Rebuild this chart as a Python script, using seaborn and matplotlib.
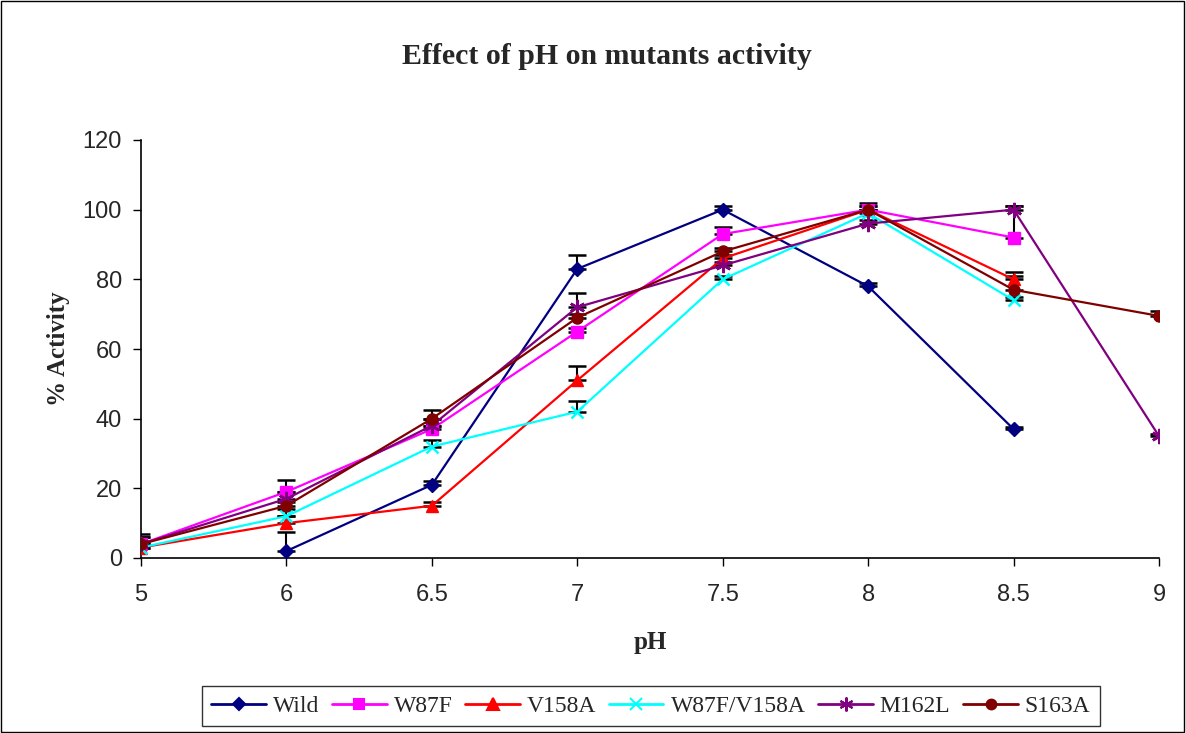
import numpy as np
import pandas as pd
import matplotlib
matplotlib.use("Agg")
import matplotlib.pyplot as plt
import seaborn as sns

ph_labels = ["5", "6", "6.5", "7", "7.5", "8", "8.5", "9"]
series_names = ["Wild", "W87F", "V158A", "W87F/V158A", "M162L", "S163A"]

wild = [np.nan, 2, 21, 83, 100, 78, 37, np.nan]
w87f = [4, 19, 37, 65, 93, 100, 92, np.nan]
v158a = [3, 10, 15, 51, 86, 100, 80, np.nan]
w87f_v158a = [3, 12, 32, 42, 80, 99, 74, np.nan]
m162l = [4, 17, 38, 72, 84, 96, 100, 35]
s163a = [4, 15, 40, 69, 88, 100, 77, 69.5]

wild_err = [np.nan, 5.5, 1, 4, 1, 1, 0.5, np.nan]
w87f_err = [2, 3.5, 1, 1, 2, 1, 9, np.nan]
v158a_err = [2, 2, 1, 4, 1, 1, 2, np.nan]
w87f_v158a_err = [2, 2, 2, 3, 1, 1, 1, np.nan]
m162l_err = [2, 2, 2, 4, 1, 1, 1, 0.5]
s163a_err = [3, 1, 2.5, 1, 1, 2, 4, 1.5]

values = [wild, w87f, v158a, w87f_v158a, m162l, s163a]
errors = [wild_err, w87f_err, v158a_err, w87f_v158a_err, m162l_err, s163a_err]
colors = ["#000080", "#FF00FF", "#FF0000", "#00FFFF", "#800080", "#800000"]
markers = ["D", "s", "^", "x", (6, 2, 0), "o"]
msizes = [7, 8, 9, 9, 11, 8]

rows = []
for name, vals, errs in zip(series_names, values, errors):
    for i, (v, e) in enumerate(zip(vals, errs)):
        if not np.isnan(v):
            rows.append({"series": name, "pos": i, "value": v, "err": e})
df = pd.DataFrame(rows)

sns.set_theme(style="white")
plt.rcParams["font.family"] = ["Liberation Sans", "DejaVu Sans"]

fig = plt.figure(figsize=(11.86, 7.33), dpi=100)
ax = fig.add_axes([141 / 1186, 1 - 558 / 733, (1159 - 141) / 1186, (558 - 140) / 733])

handles = []
for name, c, m, ms in zip(series_names, colors, markers, msizes):
    sub = df[df["series"] == name]
    ax.errorbar(sub["pos"], sub["value"], yerr=[np.zeros(len(sub)), sub["err"]],
                fmt="none", ecolor="black", elinewidth=1.5, capsize=6.2, capthick=1.8, zorder=2)
    sns.lineplot(data=sub, x="pos", y="value", ax=ax, color=c, marker=m,
                 markersize=ms, markeredgecolor=c, markeredgewidth=1.8 if m in ("x", (6, 2, 0)) else 1,
                 linewidth=1.6, label=name, zorder=3, legend=False)

for name, c, m, ms in zip(series_names, colors, markers, msizes):
    h, = ax.plot([], [], color=c, marker=m, markersize=ms - 1, markeredgecolor=c,
                 markeredgewidth=1.5, linewidth=2, label=name)
    handles.append(h)

ax.set_xlim(0, len(ph_labels) - 1)
ax.set_ylim(0, 120)
ax.set_xticks(range(len(ph_labels)))
ax.set_xticklabels(ph_labels)
ax.set_yticks(range(0, 121, 20))
ax.tick_params(axis="both", labelsize=17, direction="out", length=5.8, width=1, color="black",
               bottom=True, left=True)
ax.tick_params(axis="x", pad=13)
ax.tick_params(axis="y", pad=8)
for s in ["top", "right"]:
    ax.spines[s].set_visible(False)
for s in ["left", "bottom"]:
    ax.spines[s].set_color("black")
    ax.spines[s].set_linewidth(1.2)
ax.grid(False)

ax.set_xlabel("pH", fontsize=18, fontweight="bold", family="Liberation Serif", labelpad=18)
ax.set_ylabel("% Activity", fontsize=18, fontweight="bold", family="Liberation Serif", labelpad=9)

fig.text(607 / 1186, 1 - 57 / 733, "Effect of pH on mutants activity", ha="center", va="center",
         fontsize=21.5, fontweight="bold", family="Liberation Serif")

leg = fig.legend(handles=handles, labels=series_names, loc="upper left",
                 bbox_to_anchor=(202 / 1186, 1 - 686 / 733), ncol=6, frameon=True,
                 prop={"family": "Liberation Serif", "size": 17}, handlelength=2.3,
                 handletextpad=0.3, columnspacing=0.55, borderpad=0.4, borderaxespad=0,
                 fancybox=False)
leg.get_frame().set_edgecolor("black")
leg.get_frame().set_linewidth(1)

fig.patches.append(plt.Rectangle((0.001, 0.001), 0.997, 0.997, transform=fig.transFigure,
                                 fill=False, edgecolor="black", linewidth=1))

fig.savefig("out.png", dpi=100)
